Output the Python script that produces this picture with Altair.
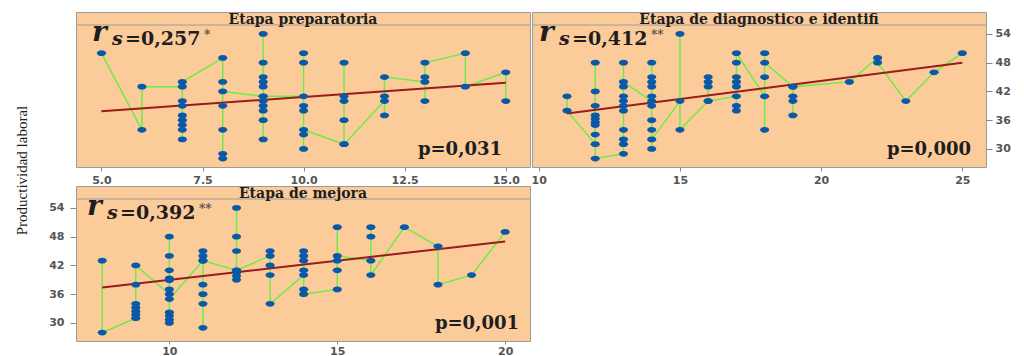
import altair as alt
import pandas as pd

# ---------------- data ----------------
# Etapa preparatoria: x values and, for each, the y values in drawing order
prep_x = [5, 6, 7, 8, 9, 10, 11, 12, 13, 14, 15]
prep_y = [[50], [34, 43], [43, 32, 34, 35, 36, 37, 39, 40, 44],
          [49, 44, 39, 34, 29, 28, 42],
          [41, 54, 48, 45, 44, 43, 40, 39, 38, 36, 32, 41],
          [41, 50, 48, 39, 38, 30, 33, 34], [31, 48, 41, 40, 36, 31],
          [40, 37, 41, 45], [44, 40, 45, 48], [50, 43], [46, 40]]
prep_fit_x = [5, 15]
prep_fit_y = [37.9, 43.8]

# Etapa de diagnostico e identifi
diag_x = [11, 12, 13, 14, 15, 16, 17, 18, 19, 21, 22, 23, 24, 25]
diag_y = [[41, 38], [31, 48, 42, 39, 37, 36.3, 35.6, 35, 33, 28],
          [29, 31, 32, 34, 38, 39, 40, 41, 43, 48, 44],
          [40, 48, 45, 44, 43, 41, 39, 36, 34, 30, 32], [40, 54, 34],
          [40, 45, 44, 43, 40], [41, 38, 39, 43, 44, 45, 48, 50],
          [41, 34, 45, 50, 48], [43, 37, 40, 41, 43], [44], [49, 48],
          [40], [46], [50]]
diag_fit_x = [11, 25]
diag_fit_y = [37.4, 48.0]

# Etapa de mejora
mej_x = [8, 9, 10, 11, 12, 13, 14, 15, 16, 17, 18, 19, 20]
mej_y = [[43, 28], [31, 31.7, 32.4, 33.2, 34, 38, 42],
         [36, 48, 44, 41, 39.3, 38.9, 37, 32.2, 31.5, 30.7, 30, 35],
         [43, 45, 44, 38, 36, 34, 29, 43], [41, 54, 48, 45, 40.5, 39.8, 39, 41],
         [44, 45, 42, 40, 34], [40, 45, 44, 43, 41, 37, 36],
         [37, 50, 43, 41, 44], [43, 50, 48, 40], [50], [46, 38], [40], [49]]
mej_fit_x = [8, 20]
mej_fit_y = [37.4, 47.0]

titles = ["Etapa preparatoria", "Etapa de diagnostico e identifi", "Etapa de mejora"]
rs_values = ["=0,257", "=0,412", "=0,392"]
rs_stars = ["*", "**", "**"]
p_values = ["p=0,031", "p=0,000", "p=0,001"]
y_ticks = [30, 36, 42, 48, 54]
y_title = "Productividad laboral"

# ---------------- style ----------------
PEACH = "#FCCB9A"
BORDER = "#9C9C9C"
GREEN = "#66EE44"
BLUE = "#0A58A8"
RED = "#9B1B1B"
TXT = "#1E1E1E"
SERIF = "DejaVu Serif"
ELLIPSE = "M-1.35,0A1.35,0.85,0,1,0,1.35,0A1.35,0.85,0,1,0,-1.35,0Z"
W, H = 454, 155
YDOM = [26.24, 58.59]


def frame(xs, ys):
    rows, k = [], 0
    for x, grp in zip(xs, ys):
        for y in grp:
            rows.append({"x": x, "y": y, "ord": k})
            k += 1
    return pd.DataFrame(rows)


def note(text, x, y, size, align="left", weight="bold", style="normal",
         color=TXT, font=SERIF):
    return alt.Chart(alt.Data(values=[{}])).mark_text(
        text=text, align=align, baseline="alphabetic", font=font,
        fontSize=size, fontWeight=weight, fontStyle=style, color=color
    ).encode(x=alt.value(x), y=alt.value(y))


def panel(i, xs, ys, fx, fy, xdom, xticks, xfmt, yaxis, rx, px,
          tick=4, pad=3):
    df = frame(xs, ys)
    base = alt.Chart(df)
    xenc = alt.X("x:Q", scale=alt.Scale(domain=xdom, nice=False, zero=False),
                 axis=alt.Axis(values=xticks, format=xfmt, title=None,
                               tickSize=tick, labelPadding=pad))
    yenc = alt.Y("y:Q", scale=alt.Scale(domain=YDOM, nice=False, zero=False),
                 axis=yaxis)
    conn = base.mark_line(color=GREEN, strokeWidth=1.4).encode(
        x=xenc, y=yenc, order="ord:Q")
    fit = alt.Chart(pd.DataFrame({"x": fx, "y": fy})).mark_line(
        color=RED, strokeWidth=2).encode(x=xenc, y=yenc)
    pts = base.mark_point(shape=ELLIPSE, filled=True, size=46, color=BLUE,
                          opacity=1, strokeWidth=0).encode(x=xenc, y=yenc)
    strip = alt.Chart(alt.Data(values=[{}])).mark_rule(
        color=BORDER, strokeWidth=1).encode(
        x=alt.value(0), x2=alt.value(W), y=alt.value(13))
    layers = [conn, fit, pts, strip,
              note(titles[i], W / 2, 11.5, 14, align="center"),
              note("r", rx, 29, 28, style="italic"),
              note("s", rx + 20, 33, 19, style="italic"),
              note(rs_values[i], rx + 33, 33, 19),
              note(rs_stars[i], rx + 112, 27, 12, color="#555"),
              note(p_values[i], px, 143, 18, align="right")]
    return alt.layer(*layers).properties(width=W, height=H)


tick_axis = dict(values=y_ticks, format="d", tickSize=6)

tl = panel(0, prep_x, prep_y, prep_fit_x, prep_fit_y, [4.37, 15.60],
           [5, 7.5, 10, 12.5, 15], ".1f", None, 16, 426)
tr = panel(1, diag_x, diag_y, diag_fit_x, diag_fit_y, [9.76, 25.84],
           [10, 15, 20, 25], "d",
           alt.Axis(orient="right", title=None, labelPadding=3, **tick_axis),
           7, 439)
bl = panel(2, mej_x, mej_y, mej_fit_x, mej_fit_y, [7.22, 20.74],
           [10, 15, 20], "d",
           alt.Axis(orient="left", title=y_title, labelPadding=6,
                    titleAngle=270, titleAlign="center",
                    titleBaseline="alphabetic", titleX=-50, titleY=-16,
                    titleFont="Liberation Serif", titleFontSize=15,
                    titleFontWeight="normal", titleColor=TXT, **tick_axis),
           11, 443, tick=3, pad=1)

chart = alt.concat(
    tl, tr, bl, columns=2, bounds="flush",
    spacing=alt.RowColnumber(row=19, column=2)
).properties(
    padding={"left": 5, "top": 3, "right": 2, "bottom": 0},
    background="white"
).configure_view(
    fill=PEACH, stroke=BORDER, strokeWidth=1
).configure_axis(
    grid=False, domain=False, labelFont="DejaVu Sans", labelFontWeight="bold",
    labelFontSize=11, labelColor="#555555", tickColor="#888888"
)

chart.save("out.html", embed_options={"renderer": "svg", "actions": False})
